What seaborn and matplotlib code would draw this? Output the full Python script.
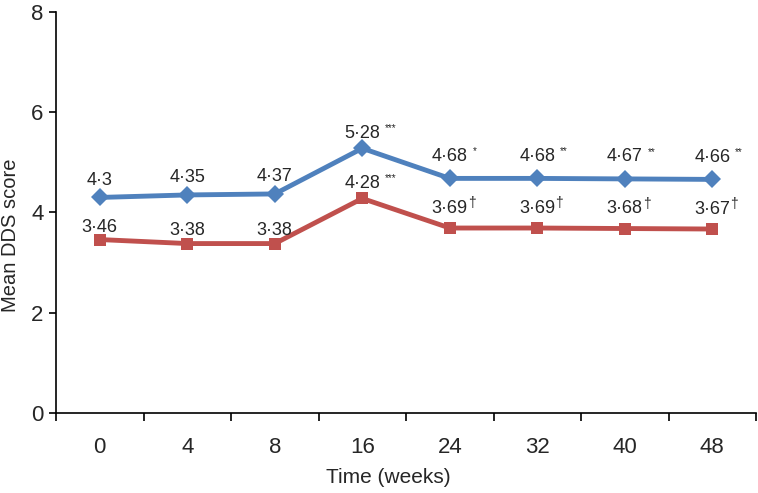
import matplotlib
matplotlib.use("Agg")
import pandas as pd
import seaborn as sns
import matplotlib.pyplot as plt
from matplotlib.ticker import FixedLocator

weeks = ["0", "4", "8", "16", "24", "32", "40", "48"]
group_a = [4.3, 4.35, 4.37, 5.28, 4.68, 4.68, 4.67, 4.66]
group_b = [3.46, 3.38, 3.38, 4.28, 3.69, 3.69, 3.68, 3.67]
sig_a = ["", "", "", "***", "*", "**", "**", "**"]
sig_b = ["", "", "", "***", "\u2020", "\u2020", "\u2020", "\u2020"]

# label lift above each marker (pixels)
lift_a = [17, 17, 17, 15, 22, 22, 22, 22]
lift_b = [12, 13, 13, 15, 20, 20, 20, 20]

sns.set_style("white")
plt.rcParams["font.family"] = ["Liberation Sans", "DejaVu Sans"]

df = pd.DataFrame({"week": weeks, "a": group_a, "b": group_b})
df["pos"] = range(len(weeks))

fig = plt.figure(figsize=(7.58, 4.93), dpi=100)
ax = fig.add_axes([0.0739, 0.1623, 0.9235, 0.8134])

blue = "#4F81BD"
red = "#C0504D"
sns.lineplot(x="pos", y="a", data=df, ax=ax, color=blue, linewidth=3.5,
             marker="D", markersize=9.5, markeredgewidth=0)
sns.lineplot(x="pos", y="b", data=df, ax=ax, color=red, linewidth=3.5,
             marker="s", markersize=9, markeredgewidth=0)

px = 72 / 100


def fmt(v):
    return f"{v:g}".replace(".", "\u00b7")


def put_labels(vals, sigs, lifts):
    for i, (v, s, d) in enumerate(zip(vals, sigs, lifts)):
        ax.annotate(fmt(v), (i, v), xytext=(0, d * px), textcoords="offset points",
                    ha="center", va="center", fontsize=13)
        if s:
            dag = s == "\u2020"
            ax.annotate(s, (i, v), xytext=((18 if dag else 23) * px, (d + 5) * px),
                        textcoords="offset points", ha="left", va="center",
                        fontsize=10 if dag else 7)


put_labels(group_a, sig_a, lift_a)
put_labels(group_b, sig_b, lift_b)

ax.set_xlim(-0.5, len(weeks) - 0.5)
ax.set_ylim(0, 8)
ax.set_yticks([0, 2, 4, 6, 8])
ax.set_xticks(range(len(weeks)))
ax.set_xticklabels(weeks)
ax.xaxis.set_minor_locator(FixedLocator([i - 0.5 for i in range(len(weeks) + 1)]))
ax.tick_params(axis="x", which="major", bottom=False, length=0, labelsize=16, pad=17)
ax.tick_params(axis="x", which="minor", bottom=True, length=6, width=1.2,
               direction="out", color="black")
ax.tick_params(axis="y", which="major", left=True, length=5, width=1.2,
               direction="out", labelsize=16, pad=4, color="black")

for side in ["top", "right"]:
    ax.spines[side].set_visible(False)
for side in ["left", "bottom"]:
    ax.spines[side].set_color("black")
    ax.spines[side].set_linewidth(1.2)

ax.set_xlabel("Time (weeks)", fontsize=15)
ax.xaxis.set_label_coords(0.474, -0.161)
ax.xaxis.label.set_va("center")
ax.set_ylabel("Mean DDS score", fontsize=14.5)
ax.yaxis.set_label_coords(-0.0657, 0.444)
ax.yaxis.label.set_va("center")

fig.savefig("out.png", dpi=100)
